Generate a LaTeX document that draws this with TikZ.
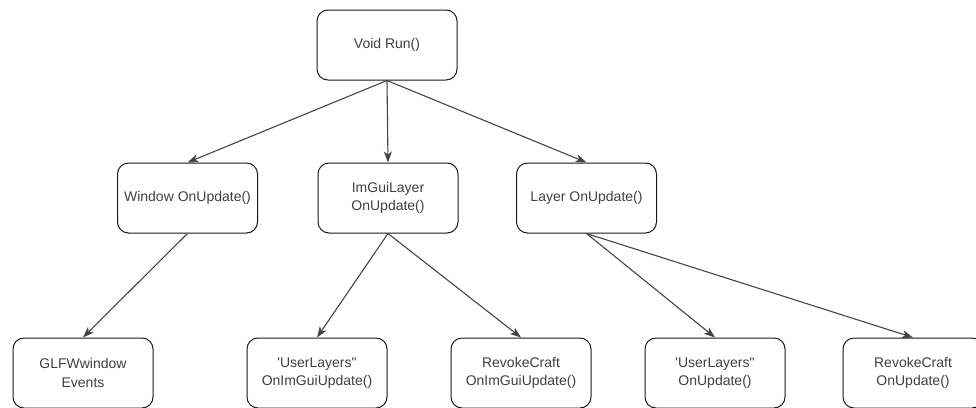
\documentclass[tikz,border=0pt]{standalone}
\usepackage{fontspec}
\setmainfont{Liberation Sans}[Ligatures=TeXOff]
\usetikzlibrary{arrows.meta}
\definecolor{txt}{HTML}{404040}
\definecolor{edge}{HTML}{454545}
\tikzset{
  box/.style={draw=black!90, line width=1pt, rounded corners=11pt, minimum width=140pt, minimum height=70pt, align=center, text=txt, font=\fontsize{14}{18.5}\selectfont, inner sep=0pt},
  conn/.style={draw=edge, line width=1.1pt, -{Stealth[length=11pt,width=8pt,inset=3pt]}}
}
\begin{document}
\begin{tikzpicture}[x=1pt,y=-1pt]
\useasboundingbox[fill=white] (0,0) rectangle (976,407);
\node[box] (run) at (387,45) {Void Run()};
\node[box] (win) at (187.5,198) {Window OnUpdate()};
\node[box] (img) at (388,198) {ImGuiLayer\\OnUpdate()};
\node[box] (lay) at (586.5,198) {Layer OnUpdate()};
\node[box] (glfw) at (83,373) {GLFWwindow\\Events};
\node[box] (ul1) at (317,373) {'UserLayers"\\OnImGuiUpdate()};
\node[box] (rc1) at (521,373) {RevokeCraft\\OnImGuiUpdate()};
\node[box] (ul2) at (715,373) {'UserLayers"\\OnUpdate()};
\node[box] (rc2) at (913,373) {RevokeCraft\\OnUpdate()};
\draw[conn] (run.south) -- (win.north);
\draw[conn] (run.south) -- (img.north);
\draw[conn] (run.south) -- (lay.north);
\draw[conn] (win.south) -- (glfw.north);
\draw[conn] (img.south) -- (ul1.north);
\draw[conn] (img.south) -- (rc1.north);
\draw[conn] (lay.south) -- (ul2.north);
\draw[conn] (lay.south) -- (rc2.north);
\end{tikzpicture}
\end{document}
